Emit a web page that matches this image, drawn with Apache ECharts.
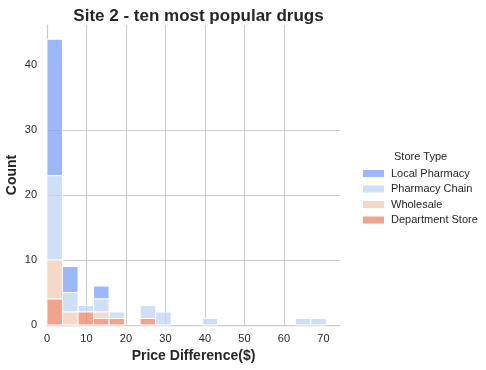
<!DOCTYPE html>
<html>
<head>
<meta charset="utf-8">
<script src="https://cdn.jsdelivr.net/npm/echarts@6/dist/echarts.min.js"></script>
<style>
html,body{margin:0;padding:0;background:#fff;}
#chart{width:486px;height:370px;}
</style>
</head>
<body>
<div id="chart"></div>
<script>
// Histogram bins (left edge of first bin and bin width, in $)
const binStart = 0;
const binWidth = 3.93;
const binCount = 18;
// Counts per bin for each store type
const storeTypes = ['Local Pharmacy', 'Pharmacy Chain', 'Wholesale', 'Department Store'];
const departmentStore = [4, 0, 2, 1, 1, 0, 1, 0, 0, 0, 0, 0, 0, 0, 0, 0, 0, 0];
const wholesale       = [6, 2, 0, 1, 0, 0, 0, 0, 0, 0, 0, 0, 0, 0, 0, 0, 0, 0];
const pharmacyChain   = [13, 3, 1, 2, 1, 0, 2, 2, 0, 0, 1, 0, 0, 0, 0, 0, 1, 1];
const localPharmacy   = [21, 4, 0, 2, 0, 0, 0, 0, 0, 0, 0, 0, 0, 0, 0, 0, 0, 0];
const xTicks = [0, 10, 20, 30, 40, 50, 60, 70];
const yTicks = [0, 10, 20, 30, 40];

const colors = {
  'Local Pharmacy': 'rgba(123,159,249,0.75)',
  'Pharmacy Chain': 'rgba(192,212,245,0.75)',
  'Wholesale': 'rgba(243,203,183,0.75)',
  'Department Store': 'rgba(238,132,104,0.75)'
};

const stackOrder = [
  ['Department Store', departmentStore],
  ['Wholesale', wholesale],
  ['Pharmacy Chain', pharmacyChain],
  ['Local Pharmacy', localPharmacy]
];

const base = new Array(binCount).fill(0);
const seriesMap = {};
stackOrder.forEach(([name, vals]) => {
  const data = [];
  for (let i = 0; i < binCount; i++) {
    const v = vals[i];
    if (v > 0) {
      data.push([binStart + i * binWidth, binStart + (i + 1) * binWidth, base[i], base[i] + v]);
      base[i] += v;
    }
  }
  seriesMap[name] = {
    name: name,
    type: 'custom',
    itemStyle: { color: colors[name] },
    renderItem: function (params, api) {
      const p0 = api.coord([api.value(0), api.value(2)]);
      const p1 = api.coord([api.value(1), api.value(3)]);
      return {
        type: 'rect',
        shape: { x: p0[0], y: p1[1], width: p1[0] - p0[0], height: p0[1] - p1[1] },
        style: { fill: colors[name], stroke: '#ffffff', lineWidth: 1 }
      };
    },
    encode: { x: [0, 1], y: [2, 3] },
    data: data
  };
});

const chart = echarts.init(document.getElementById('chart'));
const fontFamily = '"Liberation Sans", Arial, sans-serif';
chart.setOption({
  animation: false,
  backgroundColor: '#ffffff',
  textStyle: { fontFamily: fontFamily },
  title: [
    {
      text: 'Site 2 - ten most popular drugs',
      left: 193.5, textAlign: 'center', top: 3,
      textStyle: { fontSize: 17, fontWeight: 'bold', color: '#262626', fontFamily: fontFamily }
    },
    {
      text: 'Store Type',
      left: 389, top: 146,
      textStyle: { fontSize: 11, fontWeight: 'normal', color: '#262626', fontFamily: fontFamily }
    }
  ],
  legend: {
    orient: 'vertical',
    left: 358, top: 162,
    itemWidth: 21, itemHeight: 7, itemGap: 2.5,
    icon: 'rect',
    data: storeTypes,
    textStyle: { fontSize: 11, color: '#262626', lineHeight: 13, padding: [0, 0, 0, 2], fontFamily: fontFamily }
  },
  grid: { left: 47, right: 146, top: 25, bottom: 45, containLabel: false, outerBoundsMode: 'none' },
  xAxis: {
    type: 'value', min: 0, max: 74.2,
    name: 'Price Difference($)', nameLocation: 'middle', nameGap: 24, nameMoveOverlap: false,
    nameTextStyle: { fontSize: 14, fontWeight: 'bold', color: '#262626', fontFamily: fontFamily },
    axisLine: { show: true, lineStyle: { color: '#cccccc', width: 1.25 } },
    axisTick: { show: false, customValues: xTicks },
    axisLabel: { fontSize: 11, color: '#262626', margin: 8, customValues: xTicks },
    splitLine: { show: true, showMaxLine: false, lineStyle: { color: '#cccccc', width: 1 } }
  },
  yAxis: {
    type: 'value', min: 0, max: 46.2,
    name: 'Count', nameLocation: 'middle', nameGap: 27.5, nameRotate: 90, nameMoveOverlap: false,
    nameTextStyle: { fontSize: 14, fontWeight: 'bold', color: '#262626', fontFamily: fontFamily },
    axisLine: { show: true, lineStyle: { color: '#cccccc', width: 1.25 } },
    axisTick: { show: false, customValues: yTicks },
    axisLabel: { fontSize: 11, color: '#262626', margin: 10, customValues: yTicks },
    splitLine: { show: true, showMaxLine: false, lineStyle: { color: '#cccccc', width: 1 } }
  },
  series: storeTypes.map(n => seriesMap[n])
});
</script>
</body>
</html>
